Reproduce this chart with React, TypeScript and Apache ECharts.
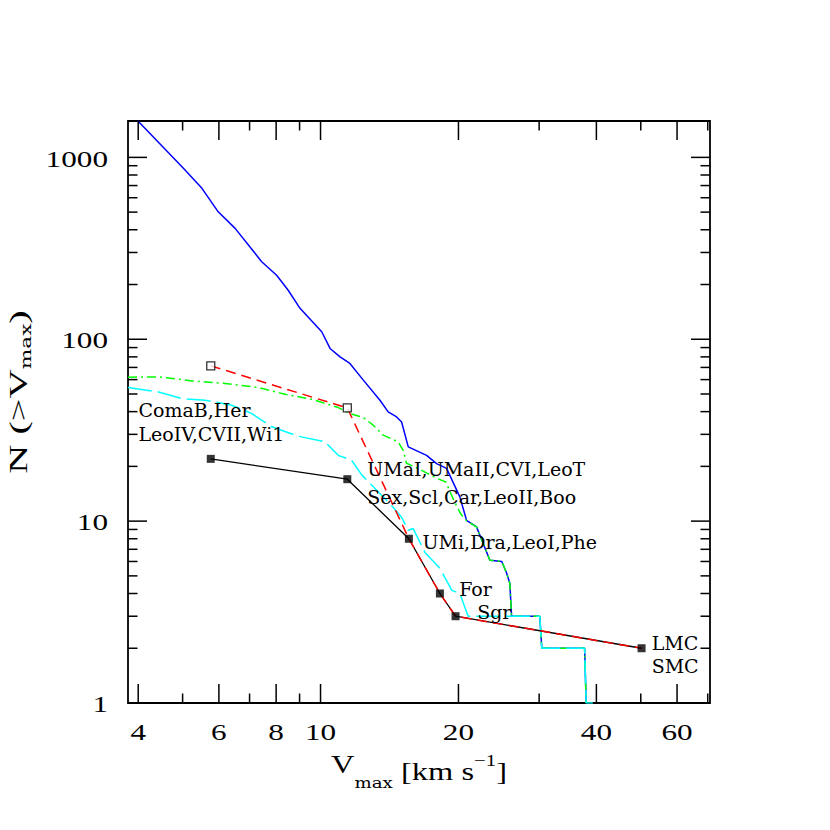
import React, { useEffect, useRef } from 'react';
import * as echarts from 'echarts';

const X_MIN = 3.8;
const X_MAX = 70.8;
const Y_MIN = 1;
const Y_MAX = 1585;

// Simulation (all subhaloes) - blue solid
const blueV = [3.99, 5.02, 5.51, 5.98, 6.51, 7.44, 8.02, 8.5, 9.02, 10.06, 10.49, 11.03, 11.59, 12.4, 13.48, 14.05, 14.66, 15.03, 15.54, 17.04, 17.92, 18.84, 20.14, 20.83, 21.9, 23.42, 24.86, 25.46, 25.89, 26.12, 30.1, 30.4, 37.7, 38.0];
const blueN = [1590, 871, 676, 502, 407, 267, 225, 186, 148, 110, 89, 80, 73.6, 59.6, 46.2, 39.9, 37.4, 35.1, 25.6, 23.0, 20.7, 19.5, 13.6, 10.1, 9.3, 6.1, 6, 5.2, 4.55, 3, 3, 2, 2, 1];

// green dash-dot
const greenV = [3.8, 4.43, 5.24, 6.19, 7.31, 8.36, 9.56, 10.93, 11.59, 12.4, 13.03, 13.7, 14.77, 15.15, 15.41, 16.31, 17.92, 18.78, 19.54, 20.25, 20.86, 21.9, 23.42, 24.86, 25.46, 25.89, 26.12, 30.1, 30.4, 37.7, 38.0];
const greenN = [61.9, 62.1, 59.0, 57.1, 54.3, 49.9, 46.8, 42.1, 39.0, 37.1, 33.7, 29.7, 27.3, 24.5, 20.8, 19.5, 17.2, 16.4, 13.0, 10.9, 10.0, 9.3, 6.1, 6, 5.2, 4.55, 3, 3, 2, 2, 1];

// cyan long dash
const cyanV = [3.8, 4.43, 4.98, 5.6, 6.4, 7.08, 7.83, 8.94, 10.22, 10.93, 11.69, 12.31, 13.26, 14.29, 15.03, 15.54, 15.93, 16.9, 18.22, 19.35, 20.14, 21.0, 30.1, 30.4, 37.7, 38.0, 39.3];
const cyanN = [54.3, 51.3, 47.2, 46.2, 43.4, 39.0, 33.0, 29.3, 27.3, 23.0, 21.6, 17.9, 14.8, 12.2, 10.5, 8.9, 9.1, 6.73, 5.5, 4.16, 4.0, 3, 3, 2, 2, 1, 1];

// observed satellites (black) and corrected (red)
const obsV = [5.76, 11.44, 15.59, 18.22, 19.71, 50.2];
const obsN = [22, 17, 8, 4, 3, 2];
const corrN = [71.4, 41.9, 8, 4, 3, 2];

// annotations
const labelText = ['ComaB,Her', 'LeoIV,CVII,Wi1', 'UMaI,UMaII,CVI,LeoT', 'Sex,Scl,Car,LeoII,Boo', 'UMi,Dra,LeoI,Phe', 'For', 'Sgr', 'LMC', 'SMC'];
const labelV = [4.005, 4.005, 12.65, 12.65, 16.7, 20.07, 21.97, 52.8, 52.8];
const labelN = [40.7, 30.2, 19.3, 13.6, 7.67, 4.24, 3.15, 2.15, 1.59];

// ticks
const xTicks = [4, 5, 6, 7, 8, 9, 10, 20, 30, 40, 50, 60, 70];
const xTickLabels = [4, 6, 8, 10, 20, 40, 60];
const yTicks = [1, 2, 3, 4, 5, 6, 7, 8, 9, 10, 20, 30, 40, 50, 60, 70, 80, 90, 100, 200, 300, 400, 500, 600, 700, 800, 900, 1000];
const yTickLabels = [1, 10, 100, 1000];

const FONT = '"DejaVu Serif", "Liberation Serif", serif';
const TFONT = '"Liberation Serif", "DejaVu Serif", serif';

const pairs = (xs: number[], ys: number[]) => xs.map((x, i) => [x, ys[i]]);

export default function App() {
  const ref = useRef<HTMLDivElement>(null);
  useEffect(() => {
    const chart = echarts.init(ref.current!, null, { renderer: 'svg' });
    const line = (xs: number[], ys: number[], color: string, type: any, width = 1.5) => ({
      type: 'line',
      data: pairs(xs, ys),
      symbol: 'none',
      showSymbol: false,
      silent: true,
      lineStyle: { color, width, type },
      z: 2,
    });
    const option: any = {
      animation: false,
      backgroundColor: '#fff',
      grid: { left: 128, top: 121, width: 582, height: 582, show: true, borderColor: '#000', borderWidth: 1.8, backgroundColor: 'transparent' },
      xAxis: {
        type: 'log', logBase: 10, min: X_MIN, max: X_MAX,
        axisLine: { show: false }, axisTick: { show: false }, axisLabel: { show: false }, splitLine: { show: false },
      },
      yAxis: {
        type: 'log', logBase: 10, min: Y_MIN, max: Y_MAX,
        axisLine: { show: false }, axisTick: { show: false }, axisLabel: { show: false }, splitLine: { show: false },
      },
      graphic: [
        {
          type: 'text', x: 419, y: 752, scaleX: 1.3,
          style: {
            text: '{v|V}{s|max}{a| [km s}{p|−1}{a|]}',
            align: 'center', verticalAlign: 'top', fill: '#000',
            rich: {
              a: { fontFamily: TFONT, fontSize: 25, lineHeight: 38, fill: '#000' },
              v: { fontFamily: TFONT, fontSize: 25, lineHeight: 26, verticalAlign: 'top', fill: '#000' },
              s: { fontFamily: FONT, fontSize: 14, lineHeight: 14, verticalAlign: 'bottom', fill: '#000' },
              p: { fontFamily: TFONT, fontSize: 16, lineHeight: 32, verticalAlign: 'top', fill: '#000' },
            },
          },
        },
        {
          type: 'text', x: 18, y: 392, rotation: Math.PI / 2, scaleX: 1.55,
          style: {
            text: '{a|N (>V}{s|max}{a|)}',
            align: 'center', verticalAlign: 'middle', fill: '#000',
            rich: {
              a: { fontFamily: TFONT, fontSize: 26, lineHeight: 30, fill: '#000' },
              s: { fontFamily: FONT, fontSize: 14, lineHeight: 14, verticalAlign: 'bottom', fill: '#000' },
            },
          },
        },
      ],
      series: [
        line(blueV, blueN, '#0000ff', 'solid'),
        line(greenV, greenN, '#00ff00', [9, 4, 2, 4]),
        line(cyanV, cyanN, '#00ffff', [24, 6]),
        line(obsV, obsN, '#000000', 'solid', 1.3),
        line(obsV, corrN, '#ff0000', [10, 6]),
        {
          type: 'scatter', data: pairs(obsV, obsN), symbol: 'rect', symbolSize: 8,
          itemStyle: { color: '#000' }, silent: true, z: 3,
        },
        {
          type: 'scatter', data: pairs(obsV.slice(0, 2), corrN.slice(0, 2)), symbol: 'rect', symbolSize: 8,
          itemStyle: { color: '#fff', borderColor: '#000', borderWidth: 1.3 }, silent: true, z: 3,
        },
        {
          type: 'custom', silent: true, z: 5,
          data: pairs(labelV, labelN).map((p, i) => [p[0], p[1], i]),
          renderItem: (params: any, api: any) => {
            const p = api.coord([api.value(0), api.value(1)]);
            const i = api.value(2);
            return {
              type: 'text', x: p[0], y: p[1],
              style: { text: labelText[i], fill: '#000', font: `19px ${FONT}`, align: 'left', verticalAlign: 'middle' },
            };
          },
        },
        {
          type: 'custom', silent: true, z: 5,
          data: xTicks.map((v) => [v, Y_MIN]),
          renderItem: (params: any, api: any) => {
            const v = api.value(0);
            const cs = params.coordSys;
            const px = api.coord([v, Y_MIN])[0];
            const major = xTickLabels.indexOf(v) >= 0;
            const len = major ? 19 : 9.5;
            const bottom = cs.y + cs.height;
            const top = cs.y;
            const children: any[] = [
              { type: 'line', shape: { x1: px, y1: bottom, x2: px, y2: bottom - len }, style: { stroke: '#000', lineWidth: 1.5 } },
              { type: 'line', shape: { x1: px, y1: top, x2: px, y2: top + len }, style: { stroke: '#000', lineWidth: 1.5 } },
            ];
            if (major) {
              children.push({ type: 'text', x: px, y: bottom + 29, scaleX: 1.3, style: { text: String(v), fill: '#000', font: `24px ${TFONT}`, align: 'center', verticalAlign: 'middle' } });
            }
            return { type: 'group', children };
          },
        },
        {
          type: 'custom', silent: true, z: 5,
          data: yTicks.map((v) => [X_MIN, v]),
          renderItem: (params: any, api: any) => {
            const v = api.value(1);
            const cs = params.coordSys;
            const py = api.coord([X_MIN, v])[1];
            const major = yTickLabels.indexOf(v) >= 0;
            const len = major ? 19 : 9.5;
            const left = cs.x;
            const right = cs.x + cs.width;
            const children: any[] = [
              { type: 'line', shape: { x1: left, y1: py, x2: left + len, y2: py }, style: { stroke: '#000', lineWidth: 1.5 } },
              { type: 'line', shape: { x1: right, y1: py, x2: right - len, y2: py }, style: { stroke: '#000', lineWidth: 1.5 } },
            ];
            if (major) {
              children.push({ type: 'text', x: left - 20, y: py + 1, scaleX: 1.3, style: { text: String(v), fill: '#000', font: `24px ${TFONT}`, align: 'right', verticalAlign: 'middle' } });
            }
            return { type: 'group', children };
          },
        },
      ],
    };
    chart.setOption(option);
    return () => chart.dispose();
  }, []);
  return <div ref={ref} style={{ position: 'fixed', left: 0, top: 0, width: 830, height: 830, background: '#fff' }} />;
}
